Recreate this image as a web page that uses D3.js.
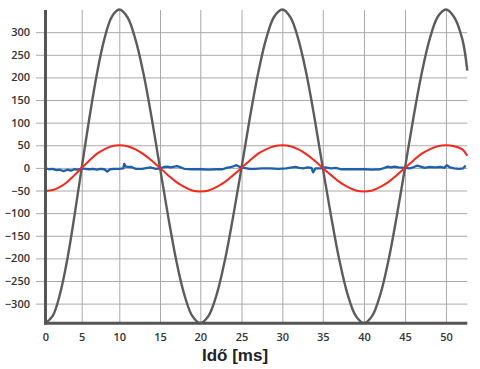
<!DOCTYPE html>
<html><head><meta charset="utf-8">
<script src="https://cdn.jsdelivr.net/npm/d3@7/dist/d3.min.js"></script>
<style>
html,body{margin:0;padding:0;background:#fff;}
svg{display:block;}
</style></head>
<body>
<svg id="chart" width="480" height="369"></svg>
<script>
// ---- data ----
const xTicks = [0,5,10,15,20,25,30,35,40,45,50];
const yTicks = [-300,-250,-200,-150,-100,-50,0,50,100,150,200,250,300];
const xTitle = "Idő [ms]";

const time = [0,1,2,3,4,5,6,7,8,9,10,11,12,13,14,15,16,17,18,19,20,21,22,23,24,25,26,27,28,29,30,31,32,33,34,35,36,37,38,39,40,41,42,43,44,45,46,47,48,49,50,51,52,52.6];
const grayValues = [-343,-327,-279,-203,-106,0,108,206,284,334,350,333,283,206,108,0,-106,-203,-279,-327,-343,-327,-279,-203,-106,0,108,206,284,334,350,333,283,206,108,0,-106,-203,-279,-327,-343,-327,-279,-203,-106,0,108,206,284,334,350,333,284,215];
const redValues = [-51,-49,-42,-31,-16,0,16,31,41,48,50,48,41,30,16,0,-16,-31,-42,-50,-52,-50,-42,-31,-16,0,16,31,41,48,50,48,41,30,16,0,-16,-31,-42,-50,-52,-50,-42,-31,-16,0,16,31,41,48,50,48,41,27];

const blueTime = [0,0.5,1,1.5,2,2.5,3,3.5,4,4.5,5,5.5,6,6.5,7,7.5,8,8.4,8.8,9.3,10,10.5,10.6,10.8,11.3,11.5,12,12.8,13.8,14.5,15,15.5,15.9,16.3,16.8,17.1,17.6,18,19,20,21,22,22.7,23.2,23.8,24.4,24.8,25.3,26,26.7,27.5,28.5,29.5,30.5,31.2,31.6,32.1,32.6,33.1,33.6,33.8,34.1,34.7,35.3,36,36.6,37.2,38,39,40,41,42,42.5,42.9,43.3,43.7,44.2,45,45.6,46.1,46.5,46.9,47.4,48,48.7,49.3,49.8,50.1,50.5,51,51.6,52.1,52.4];
const blueValues = [-1,-3,-2,-5,-4,-7,-4,-6,-3,-4,-1,-2,-3,-2,-4,-2,-3,-8,-3,-2,-2,-1,9,3,2,2,-2,-2,1,-2,-1,2,3,1,3,4,1,-2,-3,-3,-4,-3,-3,0,2,6,2,0,-2,-2,-1,-1,-2,-1,1,2,0,-1,1,0,-10,-1,-1,1,-1,0,-3,-3,-3,-3,-4,-3,0,3,1,3,1,0,-1,2,5,3,0,2,1,2,0,6,1,-1,-2,-1,5];

// ---- layout ----
const svg = d3.select("#chart");
const plotLeft = 45.5, plotRight = 467.3, plotTop = 10, plotBottom = 323.3;

const x = d3.scaleLinear()
  .domain([0,5,10,15,20,25,30,35,40,45,50,52.6])
  .range([45.5,81.7,119.3,160,200.3,241.5,282.3,322.8,364,405,446,467.3]);
const y = d3.scaleLinear().domain([-343.5, 349]).range([plotBottom, plotTop]);

const font = "'Open Sans', 'DejaVu Sans', sans-serif";

// y gridlines + labels
const yAxis = svg.append("g")
  .attr("transform", `translate(36,0)`)
  .call(d3.axisLeft(y).tickValues(yTicks).tickSize(-(plotRight-36)).tickPadding(6).tickFormat(d3.format("d")));
yAxis.select(".domain").remove();
yAxis.selectAll(".tick line").attr("stroke", "#aaaaaa").attr("stroke-width", 1);
yAxis.selectAll(".tick text").attr("fill", "#333").attr("font-family", font)
  .attr("font-size", 11).attr("font-weight", 600);

// x gridlines + labels
const xAxis = svg.append("g")
  .attr("transform", `translate(0,${plotBottom})`)
  .call(d3.axisBottom(x).tickValues(xTicks).tickSize(-(plotBottom-plotTop)).tickPadding(10).tickFormat(d3.format("d")));
xAxis.select(".domain").remove();
xAxis.selectAll(".tick line").attr("stroke", "#aaaaaa").attr("stroke-width", 1);
xAxis.selectAll(".tick text").attr("fill", "#333").attr("font-family", font)
  .attr("font-size", 11).attr("font-weight", 600);

// series
const lineGen = (vals, ts, curve) => d3.line()
  .x((d,i) => x(ts[i])).y(d => y(d)).curve(curve)(vals);

svg.append("path").attr("d", lineGen(grayValues, time, d3.curveCatmullRom.alpha(0.5)))
  .attr("fill","none").attr("stroke","#5c5c5c").attr("stroke-width",2.4);
svg.append("path").attr("d", lineGen(blueValues, blueTime, d3.curveLinear))
  .attr("fill","none").attr("stroke","#1f5fae").attr("stroke-width",2.3).attr("stroke-linejoin","round");
svg.append("path").attr("d", lineGen(redValues, time, d3.curveCatmullRom.alpha(0.5)))
  .attr("fill","none").attr("stroke","#f5281c").attr("stroke-width",2);

// axis lines
svg.append("line").attr("x1", plotLeft).attr("x2", plotLeft).attr("y1", plotTop).attr("y2", plotBottom+1.5)
  .attr("stroke","#555").attr("stroke-width",3);
svg.append("line").attr("x1", plotLeft-1.5).attr("x2", plotRight).attr("y1", plotBottom).attr("y2", plotBottom)
  .attr("stroke","#555").attr("stroke-width",3);

// title
svg.append("text").attr("x", 235).attr("y", 361).attr("text-anchor","middle")
  .attr("font-family","'Liberation Sans', Arial, sans-serif").attr("font-weight","bold")
  .attr("font-size",17).attr("fill","#222").text(xTitle);
</script>
</body></html>
